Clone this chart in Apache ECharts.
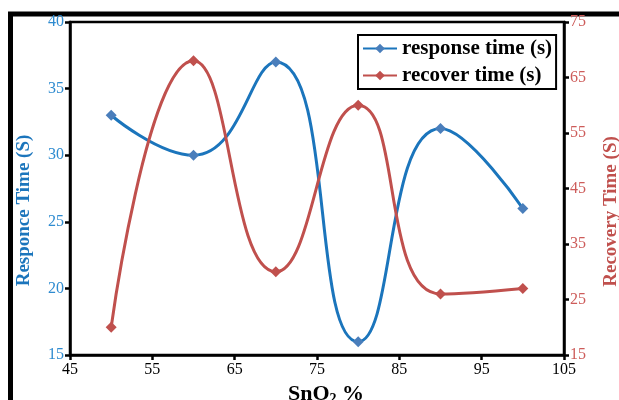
<!DOCTYPE html>
<html><head><meta charset="utf-8">
<script src="https://cdn.jsdelivr.net/npm/echarts@6/dist/echarts.min.js"></script>
<style>html,body{margin:0;padding:0;background:#fff}#c{width:619px;height:400px}</style>
</head><body><div id="c"></div>
<script>
const xValues = [50, 60, 70, 80, 90, 100];
const responseTime = [33, 30, 37, 16, 32, 26];
const recoverTime = [20, 68, 30, 60, 26, 27];
const seriesNames = ['response time (s)', 'recover time (s)'];

const serif = '"Liberation Serif", "Times New Roman", serif';
const blue = '#1b75bc', blueMark = '#4a7ebb', red = '#c0504d';
const chart = echarts.init(document.getElementById('c'));
chart.setOption({
  animation: false,
  backgroundColor: '#fff',
  graphic: [{type: 'rect', shape: {x: 10.5, y: 14, width: 800, height: 600}, style: {fill: 'none', stroke: '#000', lineWidth: 5}, silent: true}],
  grid: {left: 70, top: 22, right: 55, bottom: 45, outerBoundsMode: 'none', containLabel: false, show: true, borderColor: '#000', borderWidth: 2.5, backgroundColor: 'transparent'},
  legend: {
    left: 358, top: 35, orient: 'vertical', itemGap: 6, itemWidth: 34, itemHeight: 12,
    padding: [3, 4, 3, 4], borderColor: '#000', borderWidth: 2, borderRadius: 0,
    textStyle: {fontFamily: serif, fontWeight: 'bold', fontSize: 21, color: '#000'},
    data: seriesNames
  },
  xAxis: {
    type: 'value', min: 45, max: 105, interval: 10,
    name: '{a|SnO}{s|2}{a| %}', nameLocation: 'middle', nameGap: 25,
    nameTextStyle: {padding: [0, 0, 0, 18], rich: {a: {fontFamily: serif, fontWeight: 'bold', fontSize: 22, color: '#000'}, s: {fontFamily: serif, fontWeight: 'bold', fontSize: 14, color: '#000', verticalAlign: 'bottom', padding: [11, 0, 0, 0]}}},
    axisLine: {lineStyle: {color: '#000', width: 2.5}},
    axisTick: {inside: false, length: 5, lineStyle: {color: '#000', width: 2.5}},
    axisLabel: {fontFamily: serif, fontSize: 16, color: '#000', margin: 7},
    splitLine: {show: false}
  },
  yAxis: [{
    type: 'value', min: 15, max: 40, interval: 5, position: 'left',
    name: 'Responce Time (S)', nameLocation: 'middle', nameGap: 36,
    nameTextStyle: {fontFamily: serif, fontWeight: 'bold', fontSize: 19, color: blue, padding: [0, 44, 0, 0]},
    axisLine: {show: true, lineStyle: {color: '#000', width: 2.5}},
    axisTick: {show: true, inside: false, length: 5, lineStyle: {color: '#000', width: 2.5}},
    axisLabel: {fontFamily: serif, fontSize: 16, color: '#2e8bd0', margin: 6},
    splitLine: {show: false}
  }, {
    type: 'value', min: 15, max: 75, interval: 10, position: 'right',
    name: 'Recovery Time (S)', nameLocation: 'middle', nameGap: 38, nameRotate: 90,
    nameTextStyle: {fontFamily: serif, fontWeight: 'bold', fontSize: 19, color: red, padding: [0, 46, 0, 0]},
    axisLine: {show: true, lineStyle: {color: '#000', width: 2.5}},
    axisTick: {show: true, inside: false, length: 5, lineStyle: {color: '#000', width: 2.5}},
    axisLabel: {fontFamily: serif, fontSize: 16, color: '#cd5c5a', margin: 6},
    splitLine: {show: false}
  }],
  series: [{
    name: seriesNames[0], type: 'line', yAxisIndex: 0, smooth: 0.5,
    data: xValues.map((x, i) => [x, responseTime[i]]),
    symbol: 'diamond', symbolSize: 11, showAllSymbol: true,
    lineStyle: {color: blue, width: 3}, itemStyle: {color: blueMark}
  }, {
    name: seriesNames[1], type: 'line', yAxisIndex: 1, smooth: 0.5,
    data: xValues.map((x, i) => [x, recoverTime[i]]),
    symbol: 'diamond', symbolSize: 11, showAllSymbol: true,
    lineStyle: {color: red, width: 3}, itemStyle: {color: red}
  }]
});
</script></body></html>
